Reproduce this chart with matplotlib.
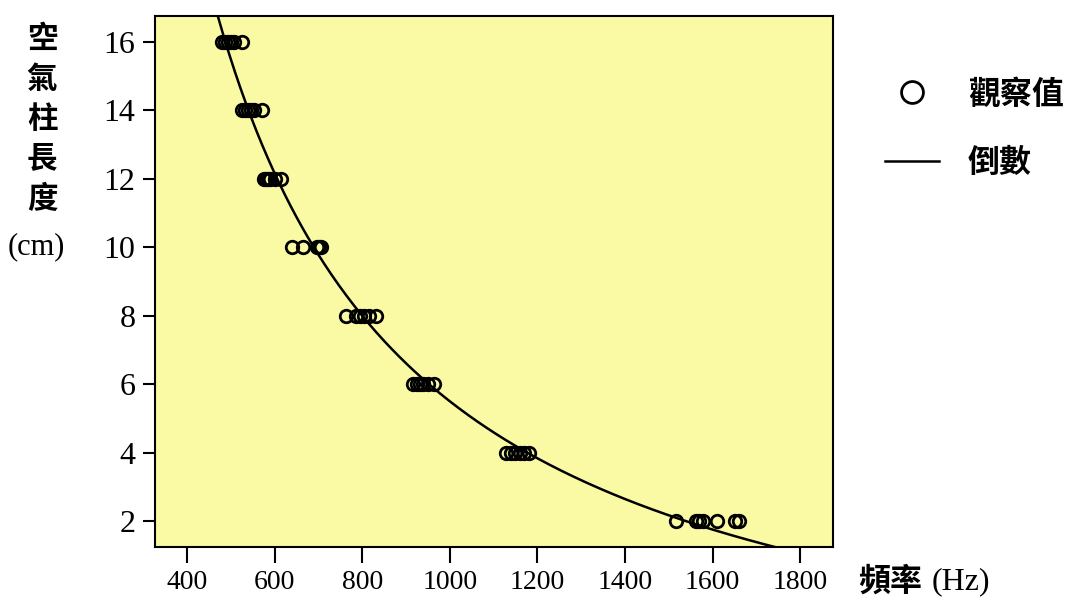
import matplotlib
matplotlib.use('Agg')
import matplotlib.pyplot as plt
import numpy as np

plt.rcParams['font.family'] = ['Liberation Serif', 'Noto Sans CJK TC']

# 觀察值 (頻率 Hz, 空氣柱長度 cm)
longitudes = [16, 14, 12, 10, 8, 6, 4, 2]
frecuencias = [
    [480, 487, 494, 500, 508, 525],
    [525, 533, 540, 547, 553, 572],
    [575, 580, 585, 590, 600, 615],
    [639, 666, 698, 702, 706],
    [762, 785, 795, 805, 815, 832],
    [915, 925, 932, 940, 950, 965],
    [1128, 1140, 1150, 1160, 1170, 1180],
    [1516, 1562, 1570, 1578, 1610, 1652, 1660],
]
# modelo inverso: L = b0 + b1 / f
b0 = -4.5
b1 = 10000.0

xticks = [400, 600, 800, 1000, 1200, 1400, 1600, 1800]
yticks = [2, 4, 6, 8, 10, 12, 14, 16]

xs = []
ys = []
for L, fs in zip(longitudes, frecuencias):
    for f in fs:
        xs.append(f)
        ys.append(L)

fig = plt.figure(figsize=(10.68, 5.98), dpi=100)
ax = fig.add_axes([155/1068, 1-547/598, (833-155)/1068, (547-16)/598])
ax.set_facecolor('#fafaa5')

ax.plot(xs, ys, 'o', ls='none', ms=9, mfc='none', mec='black', mew=2.0, label='觀察值')
fx = np.linspace(300, 2000, 400)
ax.plot(fx, b0 + b1/fx, color='black', lw=1.8, label='倒數')

ax.set_xlim(327, 1875)
ax.set_ylim(1.24, 16.76)
ax.set_xticks(xticks)
ax.set_yticks(yticks)
ax.tick_params(axis='y', labelsize=23, length=9, width=1.5, pad=5)
ax.tick_params(axis='x', labelsize=20, length=11.5, width=1.5, pad=5)
for s in ax.spines.values():
    s.set_linewidth(1.5)

leg = ax.legend(loc='upper left', bbox_to_anchor=(885/1068, 1-80/598),
                bbox_transform=fig.transFigure, frameon=False,
                prop={'size': 23, 'weight': 'bold'},
                handlelength=1.7, handletextpad=0.9, labelspacing=1.2,
                markerscale=1.75, borderpad=0, borderaxespad=0)

fig.text(42/1068, 1-26/598, '空\n氣\n柱\n長\n度', ha='center', va='top',
         fontsize=22, weight='bold', linespacing=1.5, multialignment='center')
fig.text(36/1068, 1-247/598, '(cm)', ha='center', va='center', fontsize=22)
fig.text(858/1068, 1-582/598, '頻率', ha='left', va='center', fontsize=23, weight='bold')
fig.text(932/1068, 1-582/598, '(Hz)', ha='left', va='center', fontsize=23)

fig.savefig('out.png', dpi=100, facecolor='white')
